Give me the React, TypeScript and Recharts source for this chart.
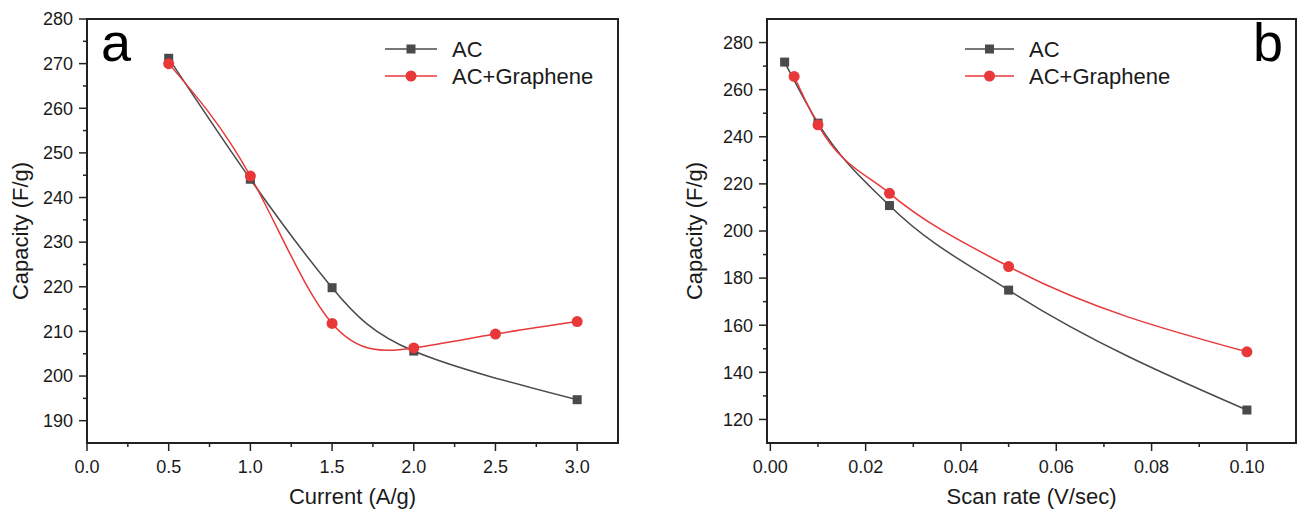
import React from 'react';
import { Line, LineChart, XAxis, YAxis } from 'recharts';

// panel a: capacity vs current density
const currentAC = [0.5, 1.0, 1.5, 2.0, 3.0];
const capacityAC_a = [271.2, 244.1, 219.8, 205.6, 194.7];
const currentGr = [0.5, 1.0, 1.5, 2.0, 2.5, 3.0];
const capacityGr_a = [270.0, 244.8, 211.8, 206.3, 209.4, 212.2];

// panel b: capacity vs scan rate
const scanAC = [0.003, 0.01, 0.025, 0.05, 0.1];
const capacityAC_b = [271.7, 245.8, 210.8, 174.9, 124.0];
const scanGr = [0.005, 0.01, 0.025, 0.05, 0.1];
const capacityGr_b = [265.6, 245.1, 216.0, 184.9, 148.7];

const xTicksA = [0, 0.25, 0.5, 0.75, 1.0, 1.25, 1.5, 1.75, 2.0, 2.25, 2.5, 2.75, 3.0];
const yTicksA = [190, 195, 200, 205, 210, 215, 220, 225, 230, 235, 240, 245, 250, 255, 260, 265, 270, 275, 280];
const xTicksB = [0, 0.01, 0.02, 0.03, 0.04, 0.05, 0.06, 0.07, 0.08, 0.09, 0.1];
const yTicksB = [120, 130, 140, 150, 160, 170, 180, 190, 200, 210, 220, 230, 240, 250, 260, 270, 280];

const domainXA = [0, 3.25];
const domainYA = [185, 280];
const domainXB = [-0.0007, 0.1103];
const domainYB = [110, 290];

const seriesNames = ['AC', 'AC+Graphene'];

const FONT = "'Liberation Sans', Arial, Helvetica, sans-serif";
const INK = '#1a1a1a';
const AXIS = '#222';
const GRAY = '#4a4a4a';
const RED = '#e8383a';

const CHART_H = 511;
const PLOT_TOP = 19;
const X_AXIS_H = 60;
const BOTTOM_PAD = 8;
const PLOT_BOTTOM = CHART_H - BOTTOM_PAD - X_AXIS_H;

const toPoints = (xs: number[], ys: number[]) => xs.map((x, i) => ({ x, y: ys[i] }));

const makeYTick = (isMajor: (v: number) => boolean) => (props: any) => {
  const { x, y, payload, index } = props;
  const major = isMajor(payload.value);
  return (
    <g key={`yt-${index}`}>
      <line x1={x} y1={y} x2={x - (major ? 8 : 4)} y2={y} stroke={AXIS} strokeWidth={1.5} />
      {major && (
        <text x={x - 14} y={y} dy="0.35em" textAnchor="end" fontSize={18} fontFamily={FONT} fill={INK}>
          {payload.value}
        </text>
      )}
    </g>
  );
};

const makeXTick = (isMajor: (v: number) => boolean, digits: number) => (props: any) => {
  const { x, y, payload, index } = props;
  const major = isMajor(payload.value);
  return (
    <g key={`xt-${index}`}>
      <line x1={x} y1={y} x2={x} y2={y + (major ? 8 : 4)} stroke={AXIS} strokeWidth={1.5} />
      {major && (
        <text x={x} y={y + 30} textAnchor="middle" fontSize={18} fontFamily={FONT} fill={INK}>
          {payload.value.toFixed(digits)}
        </text>
      )}
    </g>
  );
};

const squareDot = (props: any) => {
  const { cx, cy, index } = props;
  return <rect key={`sq-${index}`} x={cx - 4.5} y={cy - 4.5} width={9} height={9} fill={GRAY} />;
};

const titleStyle = { fontSize: 22, fontFamily: FONT, fill: INK };

const LegendOverlay: React.FC<{ left: number; lineLeft: number; lineRight: number }> = ({ left, lineLeft, lineRight }) => {
  const mid = (lineLeft + lineRight) / 2;
  return (
    <g>
      <line x1={lineLeft} y1={49} x2={lineRight} y2={49} stroke={GRAY} strokeWidth={1.5} />
      <rect x={mid - 4.5} y={44.5} width={9} height={9} fill={GRAY} />
      <text x={left} y={49} dy="0.35em" fontSize={22} fontFamily={FONT} fill={INK}>{seriesNames[0]}</text>
      <line x1={lineLeft} y1={76} x2={lineRight} y2={76} stroke={RED} strokeWidth={1.5} />
      <circle cx={mid} cy={76} r={5.5} fill={RED} />
      <text x={left} y={76} dy="0.35em" fontSize={22} fontFamily={FONT} fill={INK}>{seriesNames[1]}</text>
    </g>
  );
};

interface PanelProps {
  width: number;
  yAxisWidth: number;
  rightPad: number;
  ac: { x: number; y: number }[];
  gr: { x: number; y: number }[];
  domainX: number[];
  domainY: number[];
  xTicks: number[];
  yTicks: number[];
  xMajor: (v: number) => boolean;
  yMajor: (v: number) => boolean;
  xDigits: number;
  xTitle: string;
  yTitleOffset: number;
  curve: 'natural' | 'monotoneX';
  letter: string;
  letterX: number;
  legendText: number;
  legendLine: [number, number];
}

const Panel: React.FC<PanelProps> = (p) => {
  const plotRight = p.width - p.rightPad;
  return (
    <div style={{ position: 'relative', width: p.width, height: CHART_H, flex: 'none' }}>
      <LineChart width={p.width} height={CHART_H} data={p.gr} margin={{ top: PLOT_TOP - 1, right: p.rightPad - 1, left: 0, bottom: BOTTOM_PAD }}>
        <XAxis
          dataKey="x"
          type="number"
          domain={p.domainX}
          ticks={p.xTicks}
          interval={0}
          tickSize={0}
          tickMargin={0}
          tickLine={false}
          tick={makeXTick(p.xMajor, p.xDigits)}
          height={X_AXIS_H}
          stroke={AXIS}
          strokeWidth={1.5}
          label={{ value: p.xTitle, position: 'insideBottom', offset: -1, style: titleStyle }}
        />
        <XAxis xAxisId="top" dataKey="x" orientation="top" type="number" domain={p.domainX} height={1} tick={false} tickLine={false} stroke={AXIS} strokeWidth={2} />
        <YAxis
          type="number"
          domain={p.domainY}
          ticks={p.yTicks}
          interval={0}
          tickSize={0}
          tickMargin={0}
          tickLine={false}
          tick={makeYTick(p.yMajor)}
          width={p.yAxisWidth}
          stroke={AXIS}
          strokeWidth={1.5}
          label={{ value: 'Capacity (F/g)', angle: -90, position: 'insideLeft', offset: p.yTitleOffset, style: { ...titleStyle, textAnchor: 'middle' } }}
        />
        <YAxis yAxisId="right" orientation="right" type="number" domain={p.domainY} width={1} tick={false} tickLine={false} stroke={AXIS} strokeWidth={2} />
        <Line data={p.ac} dataKey="y" type={p.curve} stroke={GRAY} strokeWidth={1.5} dot={squareDot} isAnimationActive={false} />
        <Line data={p.gr} dataKey="y" type={p.curve} stroke={RED} strokeWidth={1.5} dot={{ r: 5.5, fill: RED, stroke: RED, strokeWidth: 0 }} isAnimationActive={false} />
      </LineChart>
      <svg width={p.width} height={CHART_H} style={{ position: 'absolute', left: 0, top: 0, pointerEvents: 'none' }}>
        <rect x={p.yAxisWidth} y={PLOT_TOP} width={plotRight - p.yAxisWidth} height={PLOT_BOTTOM - PLOT_TOP} fill="none" stroke={AXIS} strokeWidth={2} />
        <text x={p.letterX} y={61} fontSize={54} fontFamily={FONT} fill="#000">{p.letter}</text>
        <LegendOverlay left={p.legendText} lineLeft={p.legendLine[0]} lineRight={p.legendLine[1]} />
      </svg>
    </div>
  );
};

const App: React.FC = () => (
  <div style={{ position: 'absolute', left: 0, top: 0, width: 1299, height: 511, background: '#fff', display: 'flex' }}>
    <Panel
      width={650}
      yAxisWidth={87}
      rightPad={32}
      ac={toPoints(currentAC, capacityAC_a)}
      gr={toPoints(currentGr, capacityGr_a)}
      domainX={domainXA}
      domainY={domainYA}
      xTicks={xTicksA}
      yTicks={yTicksA}
      xMajor={(v) => Math.round(v * 4) % 2 === 0}
      yMajor={(v) => v % 10 === 0}
      xDigits={1}
      xTitle="Current (A/g)"
      yTitleOffset={20}
      curve="natural"
      letter="a"
      letterX={101}
      legendText={452}
      legendLine={[385, 437]}
    />
    <Panel
      width={649}
      yAxisWidth={117}
      rightPad={3}
      ac={toPoints(scanAC, capacityAC_b)}
      gr={toPoints(scanGr, capacityGr_b)}
      domainX={domainXB}
      domainY={domainYB}
      xTicks={xTicksB}
      yTicks={yTicksB}
      xMajor={(v) => Math.round(v * 100) % 2 === 0}
      yMajor={(v) => v % 20 === 0}
      xDigits={2}
      xTitle="Scan rate (V/sec)"
      yTitleOffset={44}
      curve="monotoneX"
      letter="b"
      letterX={603}
      legendText={379}
      legendLine={[315, 364]}
    />
  </div>
);

export default App;
